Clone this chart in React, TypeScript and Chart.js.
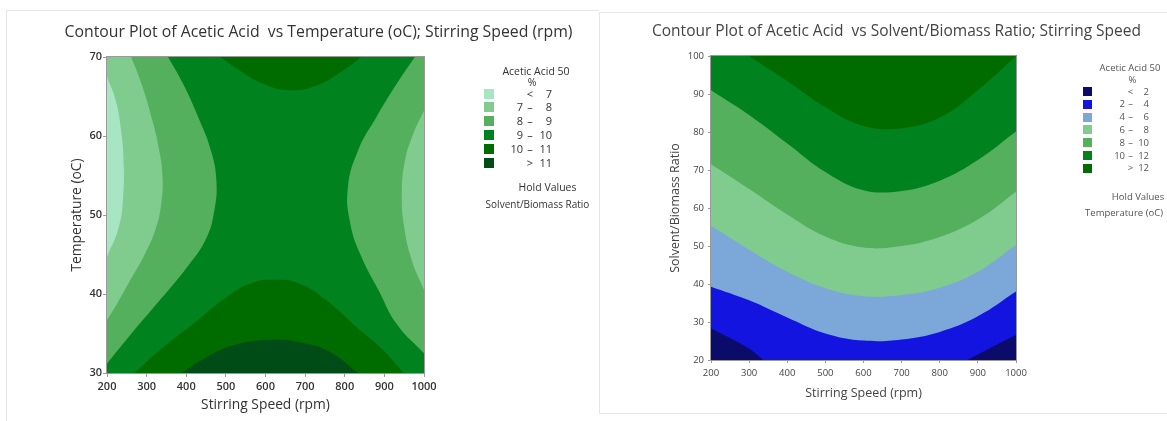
import React, { useEffect, useRef } from "react";
import { Chart, registerables } from "chart.js";

Chart.register(...registerables);
Chart.defaults.font.family = "'Open Sans', 'Noto Sans', sans-serif";

type Pt = [number, number];

// ---------------- axes ----------------
const speedTicks = [200, 300, 400, 500, 600, 700, 800, 900, 1000];
const temperatureTicks = [30, 40, 50, 60, 70];
const ratioTicks = [20, 30, 40, 50, 60, 70, 80, 90, 100];

// ---------------- left plot: contour edges (rpm, °C) ----------------
const tempEdgeBelow7: Pt[] = [[200, 67.5], [222, 64.5], [236, 60.5], [242, 56.5], [241, 52.5], [230, 48.5], [200, 44.7]];
const tempEdge7to8Left: Pt[] = [[261, 70], [287, 66.6], [312, 62.4], [331, 58.4], [340, 54.8], [337, 51.5], [323, 48.3], [297, 45.2], [257, 41.6], [228, 39.0], [200, 36.7]];
const tempEdge8to9Left: Pt[] = [[354, 70], [392, 66.6], [430, 62.4], [462, 58.2], [476, 54.4], [471, 50.6], [450, 47.0], [402, 43.4], [333, 39.2], [262, 35.0], [200, 31.2]];
const tempEdge8to9Right: Pt[] = [[977, 70], [931, 66.6], [880, 62.4], [834, 58.2], [808, 53.5], [814, 48.9], [842, 44.7], [885, 40.5], [931, 36.2], [1000, 32.5]];
const tempEdge7to8Right: Pt[] = [[1000, 63.2], [973, 60.3], [952, 56.9], [944, 52.7], [950, 48.5], [969, 44.3], [1000, 40.5]];
const tempEdge10to11Top: Pt[] = [[485, 70], [535, 68.3], [594, 66.6], [657, 65.8], [729, 66.4], [796, 68.3], [842, 70]];
const tempEdge10to11Bottom: Pt[] = [[270, 30], [333, 32.9], [417, 36.2], [501, 39.6], [560, 41.3], [619, 41.8], [687, 41.3], [754, 39.2], [830, 35.8], [897, 32.9], [948, 30]];
const tempEdgeAbove11: Pt[] = [[388, 30], [451, 32.0], [518, 33.5], [611, 34.2], [687, 33.9], [762, 32.7], [834, 30]];

// ---------------- right plot: contour edges (rpm, ratio) ----------------
const ratioSpeeds = [200, 300, 400, 500, 600, 700, 800, 900, 1000];
const ratioEdge4 = [39.3, 35.7, 31.2, 27.0, 25.1, 25.4, 27.4, 31.5, 38.0];
const ratioEdge6 = [55.3, 49.0, 43.2, 38.9, 36.8, 37.1, 39.0, 43.2, 50.3];
const ratioEdge8 = [71.5, 65.0, 58.3, 52.5, 49.6, 50.0, 52.4, 57.0, 64.3];
const ratioEdge10 = [91.0, 84.5, 77.0, 69.5, 64.7, 64.5, 67.2, 72.6, 80.1];
const ratio12Speeds = [300, 400, 500, 600, 700, 800, 900, 1000];
const ratioEdge12 = [100, 93.4, 86.5, 81.6, 81.0, 83.8, 91.0, 100];
const ratioEdge2Left: Pt[] = [[200, 28.3], [250, 25.8], [300, 23.0], [337, 20]];
const ratioEdge2Right: Pt[] = [[873, 20], [920, 22.5], [960, 24.6], [1000, 26.6]];

// ---------------- legend ----------------
const tempBandColors = ["#a8e5c3", "#80cc8e", "#55b05e", "#00821e", "#006c00", "#004c17"];
const tempLegendRows = [["", "<", "7"], ["7", "–", "8"], ["8", "–", "9"], ["9", "–", "10"], ["10", "–", "11"], ["", ">", "11"]];
const ratioBandColors = ["#0b0b6c", "#1414e0", "#7ba7d9", "#80cc8e", "#55b05e", "#00821e", "#006c00"];
const ratioLegendRows = [["", "<", "2"], ["2", "–", "4"], ["4", "–", "6"], ["6", "–", "8"], ["8", "–", "10"], ["10", "–", "12"], ["", ">", "12"]];

// ---------------- helpers ----------------
const toXY = (pts: Pt[]) => pts.map(([x, y]) => ({ x, y }));
function closeToCorner(edge: Pt[], corner: Pt): Pt[] {
  const last = edge[edge.length - 1];
  return [...edge, last, corner];
}
function shapeRegion(pts: Pt[], color: string, order: number) {
  return {
    data: toXY(pts), fill: "shape", backgroundColor: color, borderColor: color,
    borderWidth: 0, pointRadius: 0, pointHoverRadius: 0, tension: 0.45, order,
  };
}
function curveRegion(xs: number[], ys: number[], color: string, fill: string, order: number) {
  return {
    data: xs.map((x, i) => ({ x, y: ys[i] })), fill, backgroundColor: color, borderColor: color,
    borderWidth: 0, pointRadius: 0, pointHoverRadius: 0, tension: 0.4, order,
  };
}
function pairRegion(pts: Pt[], color: string, fill: string, order: number) {
  return {
    data: toXY(pts), fill, backgroundColor: color, borderColor: color,
    borderWidth: 0, pointRadius: 0, pointHoverRadius: 0, tension: 0.3, order,
  };
}

const plotFrame = {
  id: "plotFrame",
  beforeDatasetsDraw(chart: any, _a: any, opts: any) {
    const { ctx, chartArea: a } = chart;
    ctx.save();
    ctx.fillStyle = opts.background;
    ctx.fillRect(a.left, a.top, a.right - a.left, a.bottom - a.top);
    ctx.restore();
  },
  afterDatasetsDraw(chart: any, _a: any, opts: any) {
    const { ctx, chartArea: a } = chart;
    ctx.save();
    ctx.strokeStyle = opts.border;
    ctx.lineWidth = 1;
    ctx.strokeRect(Math.round(a.left) - 0.5, Math.round(a.top) - 0.5, Math.round(a.right - a.left) + 1, Math.round(a.bottom - a.top) + 1);
    ctx.restore();
  },
};

function axis(o: any) {
  return {
    type: "linear", min: o.min, max: o.max,
    afterBuildTicks: (s: any) => { s.ticks = o.ticks.map((value: number) => ({ value })); },
    afterFit: o.fit,
    ticks: { autoSkip: false, maxRotation: 0, padding: o.tickPadding, color: o.color, font: o.tickFont, callback: (v: any) => String(v) },
    grid: { drawOnChartArea: false, drawTicks: true, tickLength: o.tickLength, color: "#9a9a9a" },
    border: { display: true, color: "#9a9a9a" },
    title: { display: true, text: o.title, color: o.color, font: o.titleFont, padding: o.titlePadding },
  };
}

const buildLeft = () => ({
  type: "line",
  data: {
    datasets: [
      shapeRegion(tempEdgeBelow7, tempBandColors[0], 1),
      shapeRegion(closeToCorner(tempEdge7to8Left, [speedTicks[0], temperatureTicks[4]]), tempBandColors[1], 2),
      shapeRegion(closeToCorner(tempEdge8to9Left, [speedTicks[0], temperatureTicks[4]]), tempBandColors[2], 3),
      shapeRegion(tempEdge7to8Right, tempBandColors[1], 2),
      shapeRegion(closeToCorner(tempEdge8to9Right, [speedTicks[8], temperatureTicks[4]]), tempBandColors[2], 3),
      shapeRegion(tempEdge10to11Top, tempBandColors[4], 3),
      shapeRegion(tempEdgeAbove11, tempBandColors[5], 2),
      shapeRegion(tempEdge10to11Bottom, tempBandColors[4], 3),
    ],
  },
  options: {
    responsive: false, animation: false, events: [],
    layout: { padding: { left: 60, right: 174, top: 57, bottom: 6 } },
    plugins: { legend: { display: false }, tooltip: { enabled: false }, plotFrame: { background: tempBandColors[3], border: "#9a9a9a" } },
    scales: {
      x: axis({
        min: 200, max: 1000, ticks: speedTicks, fit: (s: any) => { s.height = 42; },
        tickPadding: 3, tickLength: 4, color: "#333", tickFont: { size: 11, weight: "600" },
        title: "Stirring Speed (rpm)", titleFont: { size: 13.8 }, titlePadding: { top: 0, bottom: 1.7 },
      }),
      y: axis({
        min: 30, max: 70, ticks: temperatureTicks, fit: (s: any) => { s.width = 47; },
        tickPadding: 1, tickLength: 4, color: "#333", tickFont: { size: 11, weight: "600" },
        title: "Temperature (oC)", titleFont: { size: 13.8 }, titlePadding: { top: 8.7, bottom: 0 },
      }),
    },
  },
  plugins: [plotFrame],
});

const buildRight = () => ({
  type: "line",
  data: {
    datasets: [
      curveRegion(ratioSpeeds, ratioEdge4, ratioBandColors[2], "end", 6),
      curveRegion(ratioSpeeds, ratioEdge6, ratioBandColors[3], "end", 5),
      curveRegion(ratioSpeeds, ratioEdge8, ratioBandColors[4], "end", 4),
      curveRegion(ratioSpeeds, ratioEdge10, ratioBandColors[5], "end", 3),
      curveRegion(ratio12Speeds, ratioEdge12, ratioBandColors[6], "end", 2),
      pairRegion(ratioEdge2Left, ratioBandColors[0], "start", 1),
      pairRegion(ratioEdge2Right, ratioBandColors[0], "start", 1),
    ],
  },
  options: {
    responsive: false, animation: false, events: [],
    layout: { padding: { left: 60, right: 151, top: 56, bottom: 19 } },
    plugins: { legend: { display: false }, tooltip: { enabled: false }, plotFrame: { background: ratioBandColors[1], border: "#9a9a9a" } },
    scales: {
      x: axis({
        min: 200, max: 1000, ticks: speedTicks, fit: (s: any) => { s.height = 42; },
        tickPadding: 5, tickLength: 3, color: "#444", tickFont: { size: 9.5 },
        title: "Stirring Speed (rpm)", titleFont: { size: 12.5 }, titlePadding: { top: 0, bottom: 1.5 },
      }),
      y: axis({
        min: 20, max: 100, ticks: ratioTicks, fit: (s: any) => { s.width = 51; },
        tickPadding: 4, tickLength: 3, color: "#444", tickFont: { size: 9.5 },
        title: "Solvent/Biomass Ratio", titleFont: { size: 12.5 }, titlePadding: { top: 7.5, bottom: 0 },
      }),
    },
  },
  plugins: [plotFrame],
});

function ChartCanvas({ left, top, width, height, build }: any) {
  const ref = useRef<HTMLCanvasElement | null>(null);
  useEffect(() => {
    if (!ref.current) return;
    const chart = new Chart(ref.current, build() as any);
    return () => chart.destroy();
  }, [build]);
  return <canvas ref={ref} width={width} height={height} style={{ position: "absolute", left, top, width, height }} />;
}

function Txt({ x, y, text, size, color, align = "center", weight = 400 }: any) {
  const tx = align === "center" ? "-50%" : align === "right" ? "-100%" : "0";
  return (
    <div style={{ position: "absolute", left: x, top: y, transform: `translate(${tx}, -50%)`, fontSize: size, lineHeight: 1.2, color, fontWeight: weight, whiteSpace: "pre" }}>
      {text}
    </div>
  );
}

function BandLegend({ rows, colors, swatchX, swatchSize, firstY, step, lowRight, sepX, highRight, size, color }: any) {
  return (
    <>
      {rows.map((r: string[], i: number) => {
        const cy = firstY + i * step;
        return (
          <React.Fragment key={i}>
            <div style={{ position: "absolute", left: swatchX, top: cy - swatchSize / 2, width: swatchSize, height: swatchSize, background: colors[i] }} />
            {r[0] ? <Txt x={lowRight} y={cy} text={r[0]} size={size} color={color} align="right" /> : null}
            <Txt x={sepX} y={cy} text={r[1]} size={size} color={color} />
            <Txt x={highRight} y={cy} text={r[2]} size={size} color={color} align="right" />
          </React.Fragment>
        );
      })}
    </>
  );
}

export default function App() {
  return (
    <div style={{ position: "fixed", left: 0, top: 0, width: 1167, height: 421, background: "#fff", overflow: "hidden", fontFamily: "'Open Sans', 'Noto Sans', sans-serif" }}>
      <div style={{ position: "absolute", left: 6, top: 10, width: 592, height: 420, borderLeft: "1px solid #e6e6e6", borderTop: "1px solid #e6e6e6" }} />
      <div style={{ position: "absolute", left: 599, top: 12, width: 570, height: 400, borderLeft: "1px solid #e6e6e6", borderTop: "1px solid #e6e6e6", borderBottom: "1px solid #e6e6e6" }} />

      <ChartCanvas left={0} top={0} width={598} height={421} build={buildLeft} />
      <ChartCanvas left={600} top={0} width={567} height={421} build={buildRight} />

      <Txt x={318.5} y={31} size={15.8} color="#333" text="Contour Plot of Acetic Acid  vs Temperature (oC); Stirring Speed (rpm)" />
      <Txt x={896.5} y={30} size={15.5} color="#444" text="Contour Plot of Acetic Acid  vs Solvent/Biomass Ratio; Stirring Speed" />

      <Txt x={536} y={70.5} size={10.5} color="#333" text="Acetic Acid 50" />
      <Txt x={532} y={82} size={10.5} color="#333" text="%" />
      <BandLegend rows={tempLegendRows} colors={tempBandColors} swatchX={484} swatchSize={10} firstY={93.5} step={13.8}
        lowRight={523} sepX={530} highRight={552} size={11} color="#333" />
      <Txt x={547.5} y={187} size={10.5} color="#333" text="Hold Values" />
      <Txt x={537.5} y={203.5} size={10} color="#333" text="Solvent/Biomass Ratio" />

      <Txt x={1130} y={68} size={9.5} color="#555" text="Acetic Acid 50" />
      <Txt x={1132.5} y={80} size={9.5} color="#555" text="%" />
      <BandLegend rows={ratioLegendRows} colors={ratioBandColors} swatchX={1083} swatchSize={9} firstY={91.5} step={12.8}
        lowRight={1125} sepX={1130.5} highRight={1149} size={9.5} color="#555" />
      <Txt x={1138} y={196.5} size={9.5} color="#555" text="Hold Values" />
      <Txt x={1124} y={213} size={9.5} color="#555" text="Temperature (oC)" />
    </div>
  );
}
